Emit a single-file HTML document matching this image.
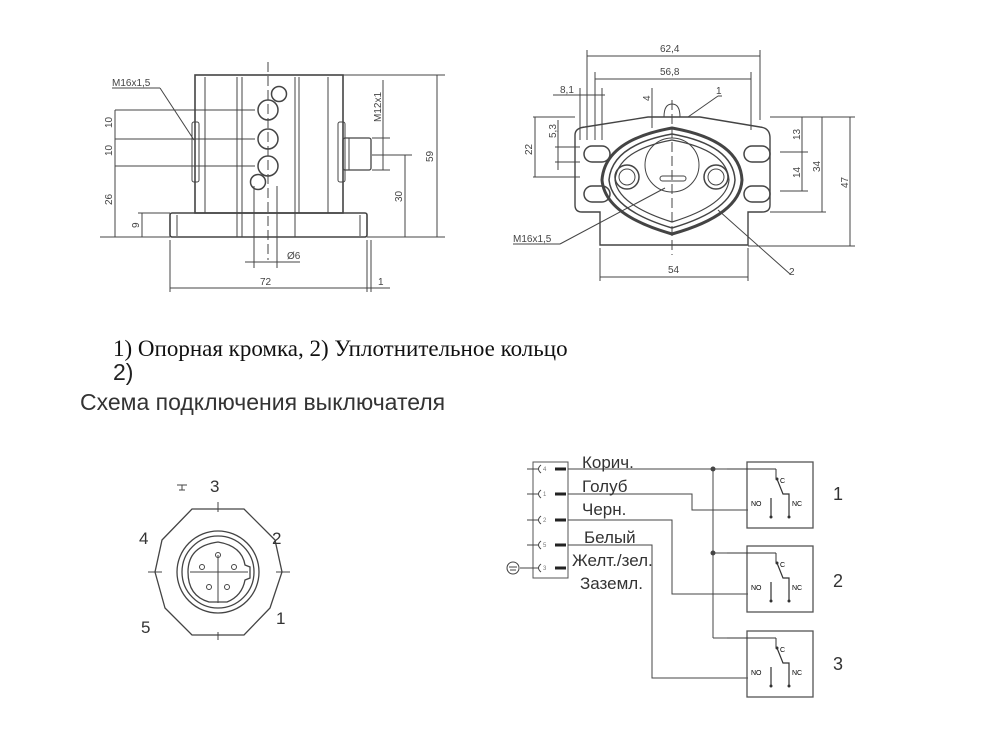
<!DOCTYPE html>
<html><head><meta charset="utf-8"><style>
html,body{margin:0;padding:0;background:#fff;}
svg{display:block;}
.s{font-family:"Liberation Sans",sans-serif;}
</style></head><body>
<svg width="994" height="732" viewBox="0 0 994 732" xmlns="http://www.w3.org/2000/svg">
<defs>
<g id="sw">
<rect x="0" y="0" width="66" height="66" fill="none" stroke="#555" stroke-width="1.3"/>
<line x1="-20" y1="7" x2="29" y2="7" stroke="#333"/>
<line x1="29" y1="7" x2="29" y2="17" stroke="#333"/>
<circle cx="30" cy="17" r="1.5" fill="#333"/>
<path d="M30 17 L36 32 L42 32 L42 55" fill="none" stroke="#333" stroke-width="1.2"/>
<circle cx="42" cy="55" r="1.5" fill="#333"/>
<line x1="24" y1="36" x2="24" y2="55" stroke="#333" stroke-width="1.2"/>
<circle cx="24" cy="55" r="1.5" fill="#333"/>
<text x="33" y="21" font-size="7" class="s">C</text>
<text x="4" y="44" font-size="7" class="s">NO</text>
<text x="45" y="44" font-size="7" class="s">NC</text>
</g>
</defs>
<g stroke="#444" fill="none" stroke-width="1">
<rect x="195" y="75" width="148" height="138" stroke-width="1.6"/>
<rect x="170" y="213" width="197" height="24" rx="2" stroke-width="1.6"/>
<line x1="205" y1="77" x2="205" y2="213"/>
<line x1="237" y1="77" x2="237" y2="237"/>
<line x1="242" y1="77" x2="242" y2="237"/>
<line x1="295" y1="77" x2="295" y2="237"/>
<line x1="299" y1="77" x2="299" y2="213"/>
<line x1="328" y1="77" x2="328" y2="213"/>
<line x1="177" y1="215" x2="177" y2="236"/>
<line x1="360" y1="215" x2="360" y2="236"/>
<rect x="192" y="122" width="7" height="60" rx="2"/>
<rect x="338" y="122" width="7" height="60" rx="2"/>
<rect x="343" y="138" width="28" height="32" rx="2" stroke-width="1.3"/>
<line x1="349" y1="138" x2="349" y2="170"/>
<circle cx="268" cy="110" r="10" stroke-width="1.5"/><circle cx="268" cy="139" r="10" stroke-width="1.5"/><circle cx="268" cy="166" r="10" stroke-width="1.5"/>
<circle cx="279" cy="94" r="7.5" stroke-width="1.5"/><circle cx="258" cy="182" r="7.5" stroke-width="1.5"/>
<line x1="268" y1="62" x2="268" y2="260" stroke-dasharray="10,4"/>
<line x1="254" y1="186" x2="254" y2="268"/><line x1="277" y1="186" x2="277" y2="268"/>
<line x1="245" y1="262" x2="300" y2="262"/>
<line x1="115" y1="110" x2="255" y2="110"/><line x1="115" y1="139" x2="255" y2="139"/><line x1="115" y1="166" x2="255" y2="166"/>
<line x1="100" y1="237" x2="170" y2="237"/>
<line x1="115" y1="110" x2="115" y2="237"/>
<line x1="138" y1="213" x2="170" y2="213"/><line x1="142" y1="213" x2="142" y2="237"/>
<line x1="343" y1="75" x2="445" y2="75"/><line x1="367" y1="237" x2="445" y2="237"/>
<line x1="437" y1="75" x2="437" y2="237"/>
<line x1="372" y1="155" x2="412" y2="155"/><line x1="405" y1="155" x2="405" y2="237"/>
<line x1="383" y1="80" x2="383" y2="170"/><line x1="372" y1="138" x2="390" y2="138"/><line x1="372" y1="170" x2="390" y2="170"/>
<line x1="170" y1="240" x2="170" y2="292"/><line x1="367" y1="240" x2="367" y2="292"/><line x1="371" y1="240" x2="371" y2="292"/>
<line x1="170" y1="288" x2="390" y2="288"/>
<line x1="112" y1="88" x2="160" y2="88"/><line x1="160" y1="88" x2="194" y2="140"/>
<path d="M575 135 Q575 128 585 127 L648 117 L700 117 L760 127 Q770 128 770 138 L770 205 Q770 212 762 212 L748 212 L748 245 L600 245 L600 212 L582 212 Q575 212 575 205 Z" stroke-width="1.4"/>
<path d="M664 117 Q664 104 672 104 Q680 104 680 117"/>
<path d="M602 180 Q605 140 672 128 Q740 140 742 180 Q740 215 672 234 Q605 215 602 180 Z" stroke-width="3"/>
<path d="M609 180 Q612 145 672 134 Q733 145 735 180 Q733 210 672 228 Q612 210 609 180 Z" stroke-width="1.5"/>
<path d="M615 180 Q618 150 672 140 Q727 150 729 180 Q727 205 672 222 Q618 205 615 180 Z" stroke-width="1.2"/>
<circle cx="672" cy="165" r="27"/>
<circle cx="627" cy="177" r="12" stroke-width="1.5"/><circle cx="627" cy="177" r="8"/>
<circle cx="716" cy="177" r="12" stroke-width="1.5"/><circle cx="716" cy="177" r="8"/>
<rect x="660" y="176" width="26" height="5" rx="2.5"/>
<rect x="584" y="146" width="26" height="16" rx="8" stroke-width="1.5"/><rect x="584" y="186" width="26" height="16" rx="8" stroke-width="1.5"/>
<rect x="744" y="146" width="26" height="16" rx="8" stroke-width="1.5"/><rect x="744" y="186" width="26" height="16" rx="8" stroke-width="1.5"/>
<line x1="672" y1="100" x2="672" y2="255" stroke-dasharray="10,4"/>
<line x1="587" y1="50" x2="587" y2="140"/><line x1="760" y1="50" x2="760" y2="120"/>
<line x1="587" y1="56" x2="760" y2="56"/>
<line x1="595" y1="72" x2="595" y2="140"/><line x1="751" y1="72" x2="751" y2="130"/>
<line x1="595" y1="79" x2="751" y2="79"/>
<line x1="553" y1="95" x2="605" y2="95"/><line x1="580" y1="88" x2="580" y2="140"/><line x1="602" y1="88" x2="602" y2="140"/>
<line x1="652" y1="88" x2="652" y2="128"/>
<line x1="688" y1="117" x2="718" y2="96"/><line x1="718" y1="96" x2="722" y2="96"/>
<line x1="533" y1="117" x2="575" y2="117"/><line x1="535" y1="117" x2="535" y2="177"/><line x1="533" y1="177" x2="580" y2="177"/>
<line x1="555" y1="147" x2="580" y2="147"/><line x1="555" y1="162" x2="580" y2="162"/><line x1="558" y1="120" x2="558" y2="170"/>
<line x1="770" y1="117" x2="855" y2="117"/><line x1="850" y1="117" x2="850" y2="246"/><line x1="748" y1="246" x2="855" y2="246"/>
<line x1="822" y1="117" x2="822" y2="212"/><line x1="770" y1="212" x2="826" y2="212"/>
<line x1="802" y1="117" x2="802" y2="191"/><line x1="780" y1="152" x2="808" y2="152"/><line x1="780" y1="191" x2="808" y2="191"/>
<line x1="600" y1="248" x2="600" y2="281"/><line x1="748" y1="248" x2="748" y2="281"/><line x1="600" y1="277" x2="748" y2="277"/>
<line x1="513" y1="244" x2="560" y2="244"/><line x1="560" y1="244" x2="665" y2="188"/>
<line x1="718" y1="210" x2="790" y2="274"/>
<polygon points="192,509 244,509 275,540 282,572 270,608 244,635 192,635 165,608 155,572 162,540" stroke-width="1.3"/>
<circle cx="218" cy="572" r="41" stroke-width="1.3"/><circle cx="218" cy="572" r="36" stroke-width="1.3"/>
<path d="M209 602 Q188 596 188 572 Q188 546 218 542 Q242 546 245 565 L250 567 L250 578 L245 580 Q242 596 227 602 Z" stroke-width="1.3"/>
<line x1="218" y1="502" x2="218" y2="512"/><line x1="218" y1="555" x2="218" y2="603"/>
<line x1="190" y1="572" x2="248" y2="572"/>
<line x1="148" y1="572" x2="162" y2="572"/><line x1="276" y1="572" x2="290" y2="572"/><line x1="218" y1="632" x2="218" y2="640"/>
<circle cx="218" cy="555" r="2.5"/><circle cx="202" cy="567" r="2.5"/><circle cx="234" cy="567" r="2.5"/><circle cx="209" cy="587" r="2.5"/><circle cx="227" cy="587" r="2.5"/>
<rect x="533" y="462" width="35" height="116" stroke="#555"/>
<line x1="568" y1="469" x2="748" y2="469"/>
<path d="M568 494 L692 494 L692 510 L748 510"/>
<path d="M568 520 L672 520 L672 594 L748 594"/>
<path d="M568 545 L652 545 L652 678 L748 678"/>
<line x1="713" y1="469" x2="713" y2="638"/>
<line x1="713" y1="553" x2="748" y2="553"/><line x1="713" y1="638" x2="748" y2="638"/>
</g>
<g stroke="#222" stroke-width="3">
<line x1="555" y1="469" x2="566" y2="469"/><line x1="555" y1="494" x2="566" y2="494"/><line x1="555" y1="520" x2="566" y2="520"/><line x1="555" y1="545" x2="566" y2="545"/><line x1="555" y1="568" x2="566" y2="568"/>
</g>
<g stroke="#444" fill="none">
<path d="M527 469 L538 469 M541 465 Q536 469 541 473"/>
<path d="M527 494 L538 494 M541 490 Q536 494 541 498"/>
<path d="M527 520 L538 520 M541 516 Q536 520 541 524"/>
<path d="M527 545 L538 545 M541 541 Q536 545 541 549"/>
<path d="M520 568 L538 568 M541 564 Q536 568 541 572"/>
<circle cx="513" cy="568" r="6"/><path d="M509 567 H517 M510 570 H516"/>
<path d="M177 485 H187 M182 485 V490 M179 490 H185"/>
</g>
<g fill="#444" stroke="none"><circle cx="713" cy="469" r="2.5"/><circle cx="713" cy="553" r="2.5"/></g>
<g font-size="6" class="s" fill="#777"><text x="543" y="471">4</text><text x="543" y="496">1</text><text x="543" y="522">2</text><text x="543" y="547">5</text><text x="543" y="570">3</text></g>
<use href="#sw" x="747" y="462"/>
<use href="#sw" x="747" y="546"/>
<use href="#sw" x="747" y="631"/>
<g class="s" font-size="17" fill="#333">
<text x="582" y="468">Корич.</text><text x="582" y="492">Голуб</text><text x="582" y="515">Черн.</text><text x="584" y="543">Белый</text><text x="572" y="566">Желт./зел.</text><text x="580" y="589">Заземл.</text>
<text x="833" y="500" font-size="18">1</text><text x="833" y="587" font-size="18">2</text><text x="833" y="670" font-size="18">3</text>
<text x="210" y="492" font-size="17">3</text><text x="139" y="544" font-size="17">4</text><text x="272" y="544" font-size="17">2</text><text x="141" y="633" font-size="17">5</text><text x="276" y="624" font-size="17">1</text>
</g>
<g class="s" font-size="10" fill="#444">
<text x="112" y="86">M16x1,5</text><text x="287" y="259">Ø6</text><text x="260" y="285">72</text><text x="378" y="285">1</text>
<text transform="translate(112,128) rotate(-90)">10</text><text transform="translate(112,156) rotate(-90)">10</text><text transform="translate(112,205) rotate(-90)">26</text><text transform="translate(139,228) rotate(-90)">9</text>
<text transform="translate(433,162) rotate(-90)">59</text><text transform="translate(402,202) rotate(-90)">30</text><text transform="translate(381,122) rotate(-90)">M12x1</text>
<text x="660" y="52">62,4</text><text x="660" y="75">56,8</text><text x="560" y="93">8,1</text><text x="716" y="94">1</text><text transform="translate(650,101) rotate(-90)">4</text>
<text transform="translate(532,155) rotate(-90)">22</text><text transform="translate(556,138) rotate(-90)">5,3</text>
<text transform="translate(800,140) rotate(-90)">13</text><text transform="translate(800,178) rotate(-90)">14</text><text transform="translate(820,172) rotate(-90)">34</text><text transform="translate(848,188) rotate(-90)">47</text>
<text x="513" y="242">M16x1,5</text><text x="668" y="273">54</text><text x="789" y="275">2</text>
</g>
<text x="113" y="356" font-family="Liberation Serif,serif" font-size="23" fill="#111">1) Опорная кромка, 2) Уплотнительное кольцо</text>
<text x="113" y="380" class="s" font-size="23" fill="#222">2)</text>
<text x="80" y="410" class="s" font-size="23" fill="#333">Схема подключения выключателя</text>
</svg>
</body></html>
